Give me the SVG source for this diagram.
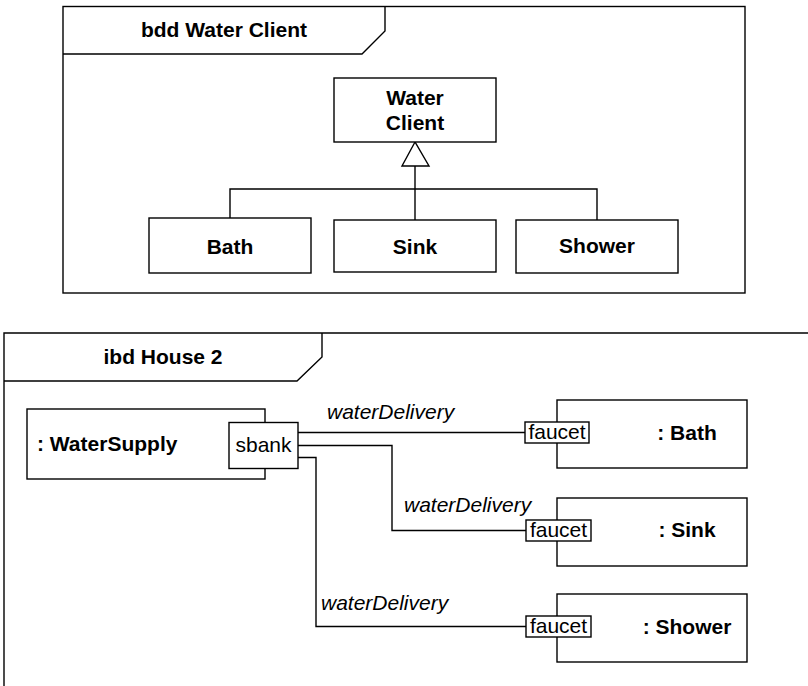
<svg xmlns="http://www.w3.org/2000/svg" width="808" height="686" viewBox="0 0 808 686">
<style>
.ln{fill:none;stroke:#000;stroke-width:1.4}
.bx{fill:#fff;stroke:#000;stroke-width:1.4}
.b{font-family:"Liberation Sans",Arial,sans-serif;font-weight:bold;font-size:21px;fill:#000}
.r{font-family:"Liberation Sans",Arial,sans-serif;font-size:21px;fill:#000}
.i{font-family:"Liberation Sans",Arial,sans-serif;font-style:italic;font-size:21px;fill:#000}
</style>
<rect width="808" height="686" fill="#fff"/>
<g id="frame-bdd">
<rect class="ln" x="63" y="6.5" width="682" height="286.5"/>
<path class="ln" d="M63,54 H362 L385,31 V6.5"/>
<text class="b" x="224" y="37" text-anchor="middle">bdd Water Client</text>
</g>
<g id="frame-ibd">
<path class="ln" d="M4,686 V333 H808"/>
<path class="ln" d="M4,381 H297 L322,357 V333"/>
<text class="b" x="163" y="364" text-anchor="middle">ibd House 2</text>
</g>
<g id="connectors">
<path class="ln" d="M230,218 V189 H597 V220"/>
<path class="ln" d="M415,166 V220"/>
<polygon class="bx" points="415,142 402,166 429,166"/>
<path class="ln" d="M298,432.5 H525"/>
<path class="ln" d="M298,445.5 H392 V530.5 H526"/>
<path class="ln" d="M298,457.5 H316 V626.5 H526"/>
<text class="i" x="327" y="419">waterDelivery</text>
<text class="i" x="404" y="512">waterDelivery</text>
<text class="i" x="321" y="610">waterDelivery</text>
</g>
<g id="WaterClient">
<rect class="bx" x="334" y="78" width="162" height="64"/>
<text class="b" x="415" y="105" text-anchor="middle">Water</text>
<text class="b" x="415" y="130" text-anchor="middle">Client</text>
</g>
<g id="Bath">
<rect class="bx" x="149" y="218" width="162" height="55"/>
<text class="b" x="230" y="254" text-anchor="middle">Bath</text>
</g>
<g id="Sink">
<rect class="bx" x="334" y="220" width="162" height="52"/>
<text class="b" x="415" y="254" text-anchor="middle">Sink</text>
</g>
<g id="Shower">
<rect class="bx" x="516" y="220" width="162" height="53"/>
<text class="b" x="597" y="253" text-anchor="middle">Shower</text>
</g>
<g id="WaterSupply">
<rect class="bx" x="27" y="409" width="238" height="70"/>
<text class="b" x="37" y="451">: WaterSupply</text>
<rect class="bx" x="229" y="422.5" width="69" height="46"/>
<text class="r" x="263.5" y="452" text-anchor="middle">sbank</text>
</g>
<g id="BathPart">
<rect class="bx" x="557" y="400" width="190" height="68"/>
<text class="b" x="687" y="440" text-anchor="middle">: Bath</text>
<rect class="bx" x="525" y="422" width="64" height="21"/>
<text class="r" x="557" y="439" text-anchor="middle">faucet</text>
</g>
<g id="SinkPart">
<rect class="bx" x="557" y="498" width="190" height="68"/>
<text class="b" x="687" y="537" text-anchor="middle">: Sink</text>
<rect class="bx" x="526" y="520" width="65" height="21"/>
<text class="r" x="558.5" y="537" text-anchor="middle">faucet</text>
</g>
<g id="ShowerPart">
<rect class="bx" x="557" y="594" width="190" height="68"/>
<text class="b" x="687" y="634" text-anchor="middle">: Shower</text>
<rect class="bx" x="526" y="616" width="65" height="21"/>
<text class="r" x="558.5" y="633" text-anchor="middle">faucet</text>
</g>
</svg>
